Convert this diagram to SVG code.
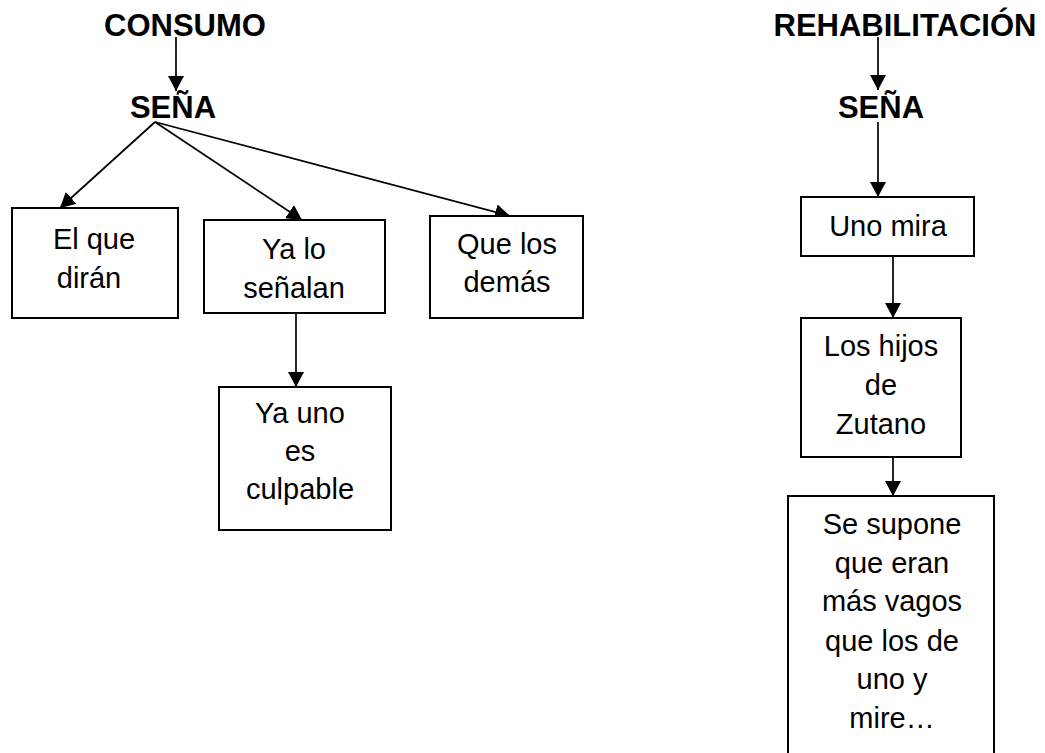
<svg xmlns="http://www.w3.org/2000/svg" width="1045" height="753" viewBox="0 0 1045 753">
<defs>
<style>
.box{fill:#fff;stroke:#000;stroke-width:2}
.t{font-family:"Liberation Sans",Arial,sans-serif;font-size:29px;fill:#000;text-anchor:middle}
.h{font-family:"Liberation Sans",Arial,sans-serif;font-size:31px;font-weight:bold;fill:#000;text-anchor:middle}
.c{stroke:#000;stroke-width:1.7;fill:none;marker-end:url(#ah)}
</style>
<marker id="ah" viewBox="0 0 15 16" refX="15" refY="8" markerWidth="15" markerHeight="16" markerUnits="userSpaceOnUse" orient="auto">
<path d="M0,0 L15,8 L0,16 Z" fill="#000"/>
</marker>
</defs>
<rect width="1045" height="753" fill="#fff"/>
<g id="connectors">
<line class="c" x1="176" y1="37" x2="176" y2="91"/>
<line class="c" x1="155" y1="122" x2="60" y2="208"/>
<line class="c" x1="155" y1="122" x2="302" y2="220"/>
<line class="c" x1="155" y1="122" x2="510" y2="216"/>
<line class="c" x1="296" y1="313" x2="296" y2="387"/>
<line class="c" x1="878" y1="37" x2="878" y2="90"/>
<line class="c" x1="878" y1="122" x2="878" y2="197"/>
<line class="c" x1="893" y1="256" x2="893" y2="318"/>
<line class="c" x1="893" y1="457" x2="893" y2="496"/>
</g>
<g id="consumo"><text class="h" x="185" y="36">CONSUMO</text></g>
<g id="sena1"><text class="h" x="173" y="118">SEÑA</text></g>
<g id="rehab"><text class="h" x="905" y="36">REHABILITACIÓN</text></g>
<g id="sena2"><text class="h" x="881" y="118">SEÑA</text></g>
<g id="n1"><rect class="box" x="12" y="208" width="166" height="110"/>
<text class="t" x="94" y="249">El que</text><text class="t" x="89" y="288">dirán</text></g>
<g id="n2"><rect class="box" x="204" y="220" width="181" height="93"/>
<text class="t" x="294" y="259">Ya lo</text><text class="t" x="294" y="298">señalan</text></g>
<g id="n3"><rect class="box" x="430" y="216" width="153" height="102"/>
<text class="t" x="507" y="254">Que los</text><text class="t" x="507" y="292">demás</text></g>
<g id="n4"><rect class="box" x="219" y="387" width="172" height="143"/>
<text class="t" x="300" y="423">Ya uno</text><text class="t" x="300" y="461">es</text><text class="t" x="300" y="499">culpable</text></g>
<g id="n5"><rect class="box" x="801" y="197" width="173" height="59"/>
<text class="t" x="888" y="236">Uno mira</text></g>
<g id="n6"><rect class="box" x="801" y="318" width="160" height="139"/>
<text class="t" x="881" y="356">Los hijos</text><text class="t" x="881" y="395">de</text><text class="t" x="881" y="434">Zutano</text></g>
<g id="n7"><rect class="box" x="788" y="496" width="206" height="270"/>
<text class="t" x="892" y="534">Se supone</text><text class="t" x="892" y="573">que eran</text><text class="t" x="892" y="611">más vagos</text><text class="t" x="892" y="651">que los de</text><text class="t" x="892" y="689">uno y</text><text class="t" x="892" y="728">mire…</text></g>
</svg>
